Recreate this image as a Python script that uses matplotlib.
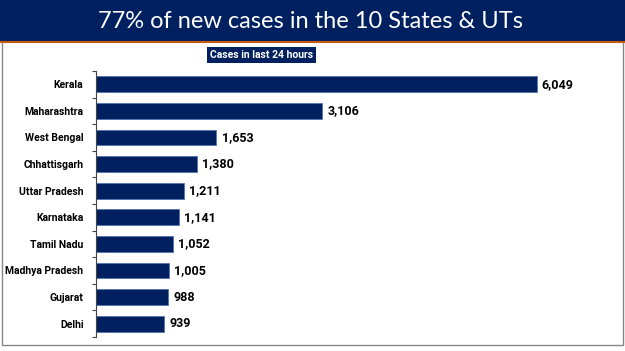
import matplotlib
matplotlib.use("Agg")
import matplotlib.pyplot as plt
from matplotlib.patches import Rectangle
from matplotlib.lines import Line2D

states = ["Kerala", "Maharashtra", "West Bengal", "Chhattisgarh", "Uttar Pradesh",
          "Karnataka", "Tamil Nadu", "Madhya Pradesh", "Gujarat", "Delhi"]
cases = [6049, 3106, 1653, 1380, 1211, 1141, 1052, 1005, 988, 939]
title = "77% of new cases in the 10 States & UTs"
subtitle = "Cases in last 24 hours"

NAVY = "#002060"
W, H = 625, 351
fig = plt.figure(figsize=(W / 100, H / 100), dpi=100)
fig.patch.set_facecolor("white")

def fx(px):
    return px / W

def fy(py):
    return 1 - py / H

# banner
fig.patches.append(Rectangle((0, fy(41)), 1, 41 / H, transform=fig.transFigure,
                             facecolor=NAVY, edgecolor="none", zorder=0))
fig.lines.append(Line2D([0, 1], [fy(42), fy(42)], transform=fig.transFigure,
                        color="#C55A11", lw=1.5))
# border box
fig.lines.append(Line2D([fx(2), fx(2), fx(623), fx(623)],
                        [fy(43), fy(345), fy(345), fy(43)],
                        transform=fig.transFigure, color="#888888", lw=1.0))

fig.text(0.497, fy(21), title, ha="center", va="center", color="white",
         fontsize=17, family="Lato")
fig.text(fx(261.5), fy(55), subtitle, ha="center", va="center", color="white",
         fontsize=7.5, fontweight="bold", family="Roboto",
         bbox=dict(boxstyle="square,pad=0.3", facecolor=NAVY, edgecolor="none"))

ax = fig.add_axes([fx(96), fy(337), fx(606) - fx(96), (337 - 71) / H])
y = list(range(len(states)))
ax.barh(y, cases, height=0.6, color=NAVY, edgecolor="#4a6fb0", linewidth=0.5)
ax.set_xlim(0, 7000)
ax.set_ylim(len(states) - 0.5, -0.5)
ax.set_yticks(y)
ax.set_yticklabels(states, fontsize=7.5, fontweight="bold", family="Roboto")
ax.tick_params(axis="y", length=0, pad=9)
ax.set_yticks([i + 0.5 for i in range(-1, len(states))], minor=True)
ax.tick_params(axis="y", which="minor", length=3, color="#444444", width=0.8)
ax.set_xticks([])
for s in ["top", "right", "bottom"]:
    ax.spines[s].set_visible(False)
ax.spines["left"].set_color("#444444")
ax.spines["left"].set_linewidth(0.8)
for yi, v in zip(y, cases):
    ax.text(v + 70, yi, f"{v:,}", va="center", ha="left", fontsize=9,
            fontweight="bold", family="Roboto")

fig.savefig("out.png", dpi=100)
